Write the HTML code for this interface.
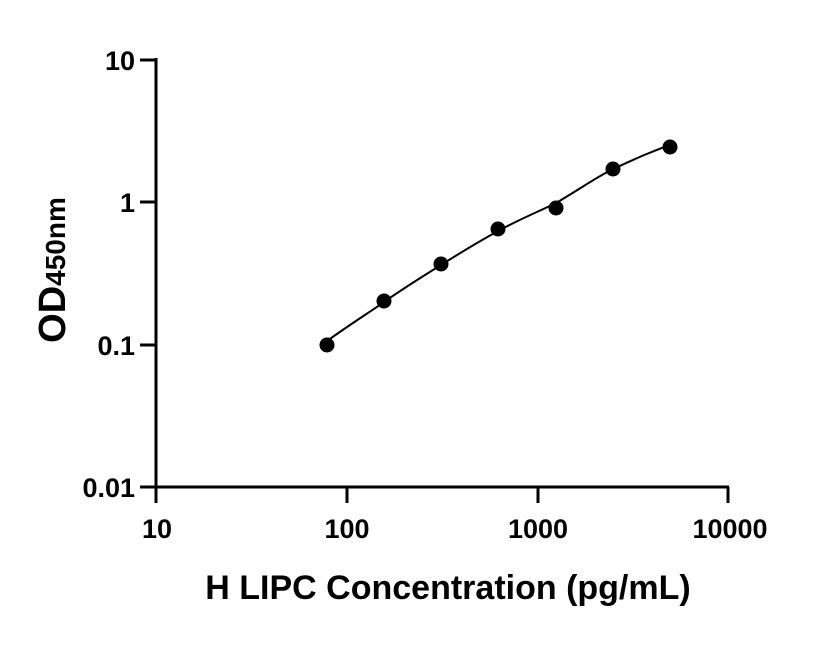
<!DOCTYPE html>
<html><head><meta charset="utf-8"><style>
html,body{margin:0;padding:0;background:#fff;}
</style></head><body>
<svg width="816" height="640" viewBox="0 0 816 640" xmlns="http://www.w3.org/2000/svg" font-family="'Liberation Sans', sans-serif" font-weight="bold">
<rect width="816" height="640" fill="#fff"/>
<g stroke="#000" stroke-width="3" fill="none">
<line x1="156" y1="58" x2="156" y2="503"/>
<line x1="155" y1="487" x2="729" y2="487"/>
<line x1="140" y1="60" x2="156" y2="60"/>
<line x1="140" y1="202" x2="156" y2="202"/>
<line x1="140" y1="345" x2="156" y2="345"/>
<line x1="140" y1="487" x2="156" y2="487"/>
<line x1="347" y1="487" x2="347" y2="503"/>
<line x1="538" y1="487" x2="538" y2="503"/>
<line x1="728" y1="487" x2="728" y2="503"/>
</g>
<g font-size="27" text-anchor="end">
<text x="135" y="70">10</text>
<text x="135" y="212">1</text>
<text x="135" y="355">0.1</text>
<text x="135" y="497">0.01</text>
</g>
<g font-size="27" text-anchor="middle">
<text x="157" y="538">10</text>
<text x="347" y="538">100</text>
<text x="538" y="538">1000</text>
<text x="730" y="538">10000</text>
</g>
<text x="448" y="599" font-size="34" text-anchor="middle">H LIPC Concentration (pg/mL)</text>
<text transform="translate(65,270) rotate(-90)" text-anchor="middle" font-size="38">OD<tspan font-size="28">450nm</tspan></text>
<path d="M327,341 C355,321 370,312 384,302 C404,288 420,278 441,265 C460,253 480,241 498,231 C520,219 540,211 556,203 C580,189 595,178 613,169 C635,159 650,152 670,145" stroke="#000" stroke-width="2" fill="none"/>
<g fill="#000">
<circle cx="327" cy="345" r="7.5"/>
<circle cx="384" cy="301" r="7.5"/>
<circle cx="441" cy="264" r="7.5"/>
<circle cx="498" cy="229" r="7.5"/>
<circle cx="556" cy="208" r="7.5"/>
<circle cx="613" cy="169" r="7.5"/>
<circle cx="670" cy="147" r="7.5"/>
</g>
</svg>
</body></html>
